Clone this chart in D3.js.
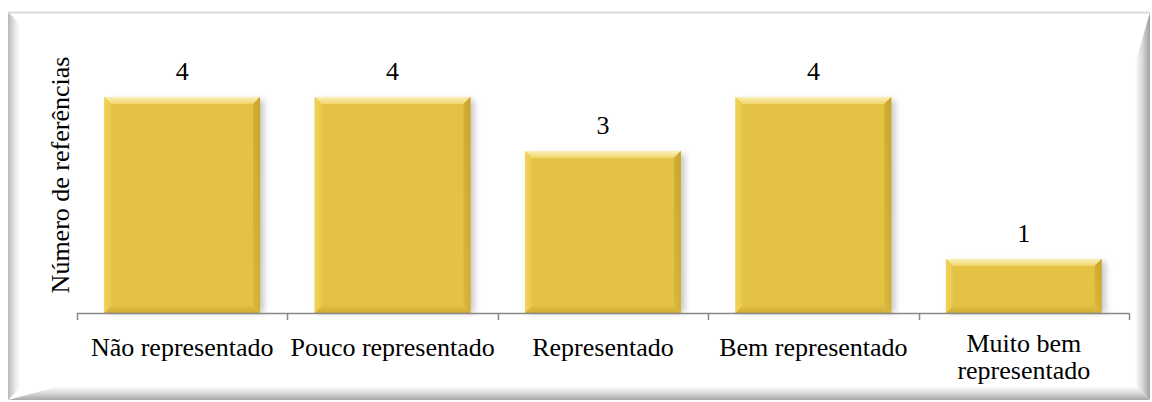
<!DOCTYPE html>
<html><head><meta charset="utf-8">
<script src="https://cdn.jsdelivr.net/npm/d3@7"></script>
<style>html,body{margin:0;padding:0;background:#fff;}svg{display:block;}</style>
</head><body>
<script>
const categories = ["Não representado","Pouco representado","Representado","Bem representado","Muito bem representado"];
const labelLines = [["Não representado"],["Pouco representado"],["Representado"],["Bem representado"],["Muito bem","representado"]];
const values = [4,4,3,4,1];
const yTitle = "Número de referências";
const FONT = "Liberation Serif";

const W=1152,H=402;
const svg=d3.select("body").append("svg").attr("width",W).attr("height",H);
const defs=svg.append("defs");
function lg(id,x1,y1,x2,y2,stops){const g=defs.append("linearGradient").attr("id",id).attr("x1",x1).attr("y1",y1).attr("x2",x2).attr("y2",y2);stops.forEach(s=>g.append("stop").attr("offset",s[0]).attr("stop-color",s[1]));}
lg("fl","0","0","1","0",[[0,"#b8b8b8"],[0.5,"#e2e2e2"],[1,"#ffffff"]]);
lg("fr","1","0","0","0",[[0,"#a0a0a0"],[0.5,"#d8d8d8"],[1,"#ffffff"]]);
lg("fb","0","1","0","0",[[0,"#a8a8a8"],[0.5,"#dadada"],[1,"#ffffff"]]);
lg("bt","0","0","0","1",[[0,"#fbf0b8"],[1,"#f1d66a"]]);
lg("bl","0","0","1","0",[[0,"#f2d35a"],[1,"#e9c94c"]]);
lg("br","1","0","0","1",[[0,"#c9a42c"],[1,"#dcb840"]]);
lg("bb","0","1","0","0",[[0,"#d2ad34"],[1,"#e0bd44"]]);
const f=defs.append("filter").attr("id","sh").attr("x","-20%").attr("y","-20%").attr("width","150%").attr("height","150%");
f.append("feGaussianBlur").attr("stdDeviation",3);

// frame
const fx0=8,fy0=12,fx1=1150,fy1=400,bw=12;
svg.append("rect").attr("x",fx0).attr("y",fy0).attr("width",fx1-fx0).attr("height",fy1-fy0).attr("fill","#fff");
svg.append("polygon").attr("points",[[fx0,fy0],[fx0+bw,fy0+bw],[fx0+bw,fy1-bw],[fx0,fy1]].join(" ")).attr("fill","url(#fl)");
svg.append("polygon").attr("points",[[fx1,fy0],[fx1-bw-3,fy0+bw+40],[fx1-bw-3,fy1-bw-2],[fx1,fy1]].join(" ")).attr("fill","url(#fr)");
svg.append("polygon").attr("points",[[fx0,fy1],[fx0+bw+40,fy1-bw-2],[fx1-bw-3,fy1-bw-2],[fx1,fy1]].join(" ")).attr("fill","url(#fb)");
svg.append("line").attr("x1",fx0).attr("x2",fx1).attr("y1",fy0+0.5).attr("y2",fy0+0.5).attr("stroke","#dcdcdc").attr("stroke-width",2);

const x=d3.scaleBand().domain(categories).range([77,1129]).paddingInner(0.26).paddingOuter(0.13);
const y=d3.scaleLinear().domain([0,5]).range([313,43]);

// shadows
svg.append("g").selectAll("rect").data(categories).join("rect")
 .attr("x",d=>x(d)+4).attr("y",(d,i)=>y(values[i])+3).attr("width",x.bandwidth()).attr("height",(d,i)=>y(0)-y(values[i])-3)
 .attr("fill","#9a9a9a").attr("opacity",0.55).attr("filter","url(#sh)");

const bev=7;
const bars=svg.append("g").selectAll("g").data(categories).join("g");
bars.each(function(d,i){
  const g=d3.select(this);
  const x0=x(d),x1=x0+x.bandwidth(),y0=y(values[i]),y1=y(0);
  g.append("rect").attr("x",x0).attr("y",y0).attr("width",x1-x0).attr("height",y1-y0).attr("fill","#e4c244");
  g.append("polygon").attr("points",[[x0,y0],[x1,y0],[x1-bev,y0+bev],[x0+bev,y0+bev]].join(" ")).attr("fill","url(#bt)");
  g.append("polygon").attr("points",[[x0,y0],[x0+bev,y0+bev],[x0+bev,y1-bev],[x0,y1]].join(" ")).attr("fill","url(#bl)");
  g.append("polygon").attr("points",[[x1,y0],[x1-bev,y0+bev],[x1-bev,y1-bev],[x1,y1]].join(" ")).attr("fill","url(#br)");
  g.append("polygon").attr("points",[[x0,y1],[x0+bev,y1-bev],[x1-bev,y1-bev],[x1,y1]].join(" ")).attr("fill","url(#bb)");
});

// value labels
svg.append("g").selectAll("text").data(categories).join("text")
 .attr("x",d=>x(d)+x.bandwidth()/2).attr("y",(d,i)=>y(values[i])-17)
 .attr("text-anchor","middle").style("font-family",FONT).style("font-size","26px").attr("fill","#000")
 .text((d,i)=>values[i]);

// axis
const ax=svg.append("g").attr("transform","translate(0,313)");
ax.append("line").attr("x1",77).attr("x2",1129).attr("y1",0.5).attr("y2",0.5).attr("stroke","#888").attr("stroke-width",1.5);
d3.range(6).forEach(k=>{const tx=Math.round(77+k*(1129-77)/5)+0.5;ax.append("line").attr("x1",tx).attr("x2",tx).attr("y1",0).attr("y2",7).attr("stroke","#888").attr("stroke-width",1.5);});

const cl=svg.append("g").selectAll("text").data(categories).join("text")
 .attr("x",d=>x(d)+x.bandwidth()/2).attr("y",(d,i)=>labelLines[i].length>1?352:356)
 .attr("text-anchor","middle").style("font-family",FONT).style("font-size","26px").attr("fill","#000");
cl.each(function(d,i){const t=d3.select(this);labelLines[i].forEach((s,j)=>t.append("tspan").attr("x",x(d)+x.bandwidth()/2).attr("dy",j?27:0).text(s));});

svg.append("text").attr("transform","translate(69,175) rotate(-90)").attr("text-anchor","middle")
 .style("font-family",FONT).style("font-size","26px").attr("fill","#000").text(yTitle);
</script>
</body></html>
